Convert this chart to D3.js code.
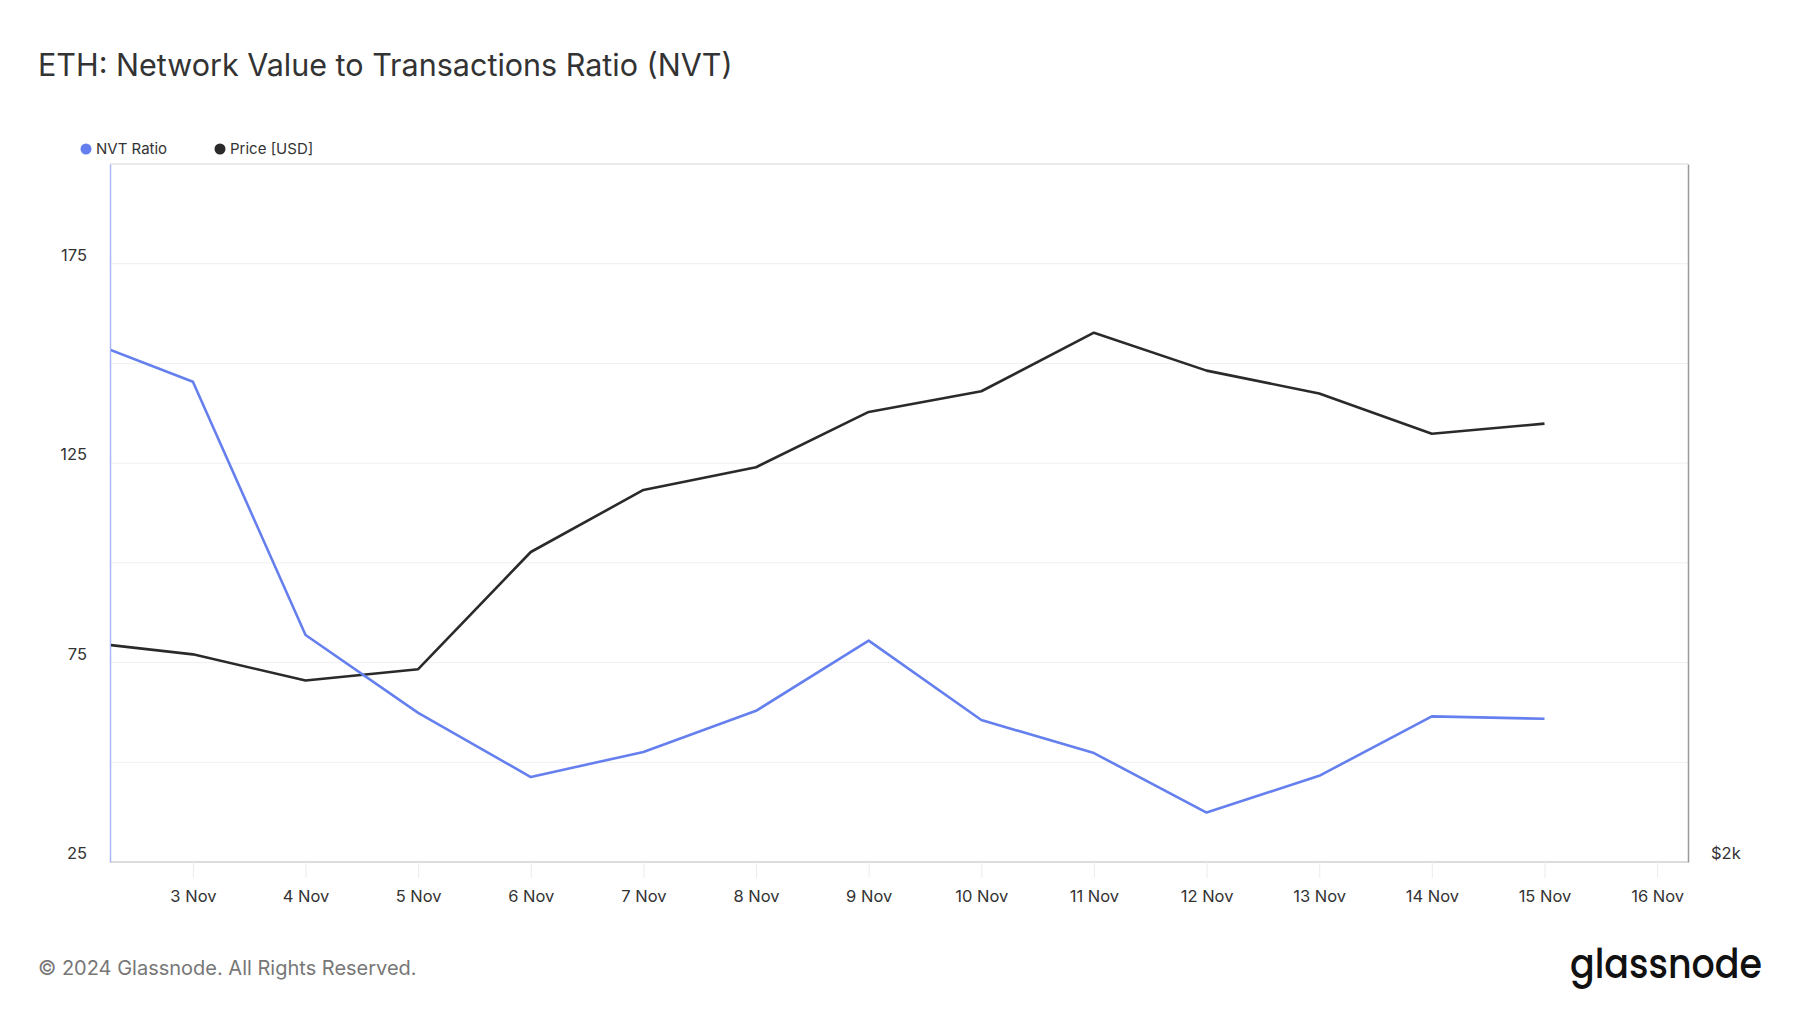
<!DOCTYPE html>
<html><head><meta charset="utf-8">
<script src="https://cdn.jsdelivr.net/npm/d3@7"></script>
<style>
html,body{margin:0;padding:0;background:#fff;}
svg{display:block;font-family:Inter,"Noto Sans",sans-serif;}
</style></head>
<body>
<svg id="chart" width="1800" height="1013"></svg>
<script>
const dates = ["2024-11-02","2024-11-03","2024-11-04","2024-11-05","2024-11-06","2024-11-07","2024-11-08","2024-11-09","2024-11-10","2024-11-11","2024-11-12","2024-11-13","2024-11-14","2024-11-15"];
const nvtRatio = [156.3,145.4,81.9,62.4,46.3,52.6,62.9,80.5,60.6,52.3,37.4,46.6,61.5,60.9];
const priceUsd = [2489,2458,2395,2422,2721,2894,2960,3127,3192,3383,3258,3185,3060,3091];
const leftTickValues = [25,50,75,100,125,150,175];
const leftTickLabels = ["25","","75","","125","","175"];
const rightTickValues = [2000];
const rightTickLabels = ["$2k"];
const xTickDates = ["2024-11-03","2024-11-04","2024-11-05","2024-11-06","2024-11-07","2024-11-08","2024-11-09","2024-11-10","2024-11-11","2024-11-12","2024-11-13","2024-11-14","2024-11-15","2024-11-16"];
const seriesNames = ["NVT Ratio","Price [USD]"];
const seriesColors = ["#6580ee","#2a2a2a"];

const svg = d3.select("#chart");
const M = {left:110, right:1688, top:164, bottom:862};
const parse = d3.utcParse("%Y-%m-%d");
const fmt = d3.utcFormat("%-d %b");

const x = d3.scaleUtc()
  .domain([new Date(Date.UTC(2024,10,2,6,20)), new Date(Date.UTC(2024,10,16,6,35))])
  .range([M.left, M.right]);
const yL = d3.scaleLinear().domain([25,200]).range([M.bottom, M.top]);
const yR = d3.scaleLog().domain([2000,4000]).range([M.bottom, M.top]);

// title
svg.append("text").attr("x",38).attr("y",76)
  .attr("font-size",30.5).attr("fill","#333").attr("font-weight",400)
  .text("ETH: Network Value to Transactions Ratio (NVT)");

// legend
const legX = [86,220];
seriesNames.forEach((n,i)=>{
  svg.append("circle").attr("cx",legX[i]).attr("cy",149).attr("r",5.5).attr("fill",seriesColors[i]);
  svg.append("text").attr("x",legX[i]+10).attr("y",149).attr("dy","0.35em")
    .attr("font-size",15).attr("fill","#333").text(n);
});

// gridlines
svg.append("g").selectAll("line").data(leftTickValues.slice(1)).join("line")
  .attr("x1",M.left).attr("x2",M.right)
  .attr("y1",d=>yL(d)).attr("y2",d=>yL(d))
  .attr("stroke","#efefef").attr("stroke-width",1);

// frame
svg.append("line").attr("x1",M.left).attr("x2",M.right).attr("y1",M.top).attr("y2",M.top)
  .attr("stroke","#e4e4e4").attr("stroke-width",1.5);
svg.append("line").attr("x1",M.left).attr("x2",M.right).attr("y1",M.bottom).attr("y2",M.bottom)
  .attr("stroke","#dcdcdc").attr("stroke-width",2);

// x axis
const xAxis = d3.axisBottom(x)
  .tickValues(xTickDates.map(parse))
  .tickFormat(fmt).tickSizeInner(16).tickSizeOuter(0).tickPadding(12);
const gx = svg.append("g").attr("transform",`translate(0,${M.bottom})`).call(xAxis);
gx.select(".domain").remove();
gx.selectAll(".tick line").attr("stroke","#ececec");
gx.selectAll(".tick text").attr("font-size",16.5).attr("fill","#333").attr("font-family","Inter, sans-serif");

// left axis
const yAxisL = d3.axisLeft(yL).tickValues(leftTickValues)
  .tickFormat((d,i)=>leftTickLabels[i]).tickSize(0).tickPadding(23);
const gl = svg.append("g").attr("transform",`translate(${M.left},0)`).call(yAxisL);
gl.select(".domain").attr("stroke","#a9b8f6").attr("stroke-width",1.5);
gl.selectAll(".tick text").attr("font-size",16.5).attr("fill","#333").attr("dy","-0.2em").attr("font-family","Inter, sans-serif");

// right axis
const yAxisR = d3.axisRight(yR).tickValues(rightTickValues)
  .tickFormat((d,i)=>rightTickLabels[i]).tickSize(0).tickPadding(23);
const gr = svg.append("g").attr("transform",`translate(${M.right},0)`).call(yAxisR);
gr.select(".domain").attr("stroke","#999").attr("stroke-width",1.5);
gr.selectAll(".tick text").attr("font-size",16.5).attr("fill","#333").attr("dy","-0.2em").attr("font-family","Inter, sans-serif");

// clip
svg.append("clipPath").attr("id","clip").append("rect")
  .attr("x",M.left+1).attr("y",M.top).attr("width",M.right-M.left-1).attr("height",M.bottom-M.top);

const pts = dates.map((d,i)=>({d:parse(d), n:nvtRatio[i], p:priceUsd[i]}));
const g = svg.append("g").attr("clip-path","url(#clip)");
g.append("path").datum(pts)
  .attr("fill","none").attr("stroke",seriesColors[1]).attr("stroke-width",2.6).attr("stroke-linejoin","round")
  .attr("d", d3.line().x(d=>x(d.d)).y(d=>yR(d.p)));
g.append("path").datum(pts)
  .attr("fill","none").attr("stroke",seriesColors[0]).attr("stroke-width",2.6).attr("stroke-linejoin","round")
  .attr("d", d3.line().x(d=>x(d.d)).y(d=>yL(d.n)));

// footer
svg.append("text").attr("x",38).attr("y",968).attr("dy","0.35em")
  .attr("font-size",20).attr("fill","#777").text("© 2024 Glassnode. All Rights Reserved.");
svg.append("text").attr("x",1570).attr("y",964).attr("dy","0.35em")
  .attr("font-size",40).attr("fill","#111").attr("font-weight",500)
  .attr("textLength",192).attr("lengthAdjust","spacingAndGlyphs")
  .attr("font-family","Poppins, 'Open Sans', Lato, sans-serif").text("glassnode");
</script>
</body></html>
